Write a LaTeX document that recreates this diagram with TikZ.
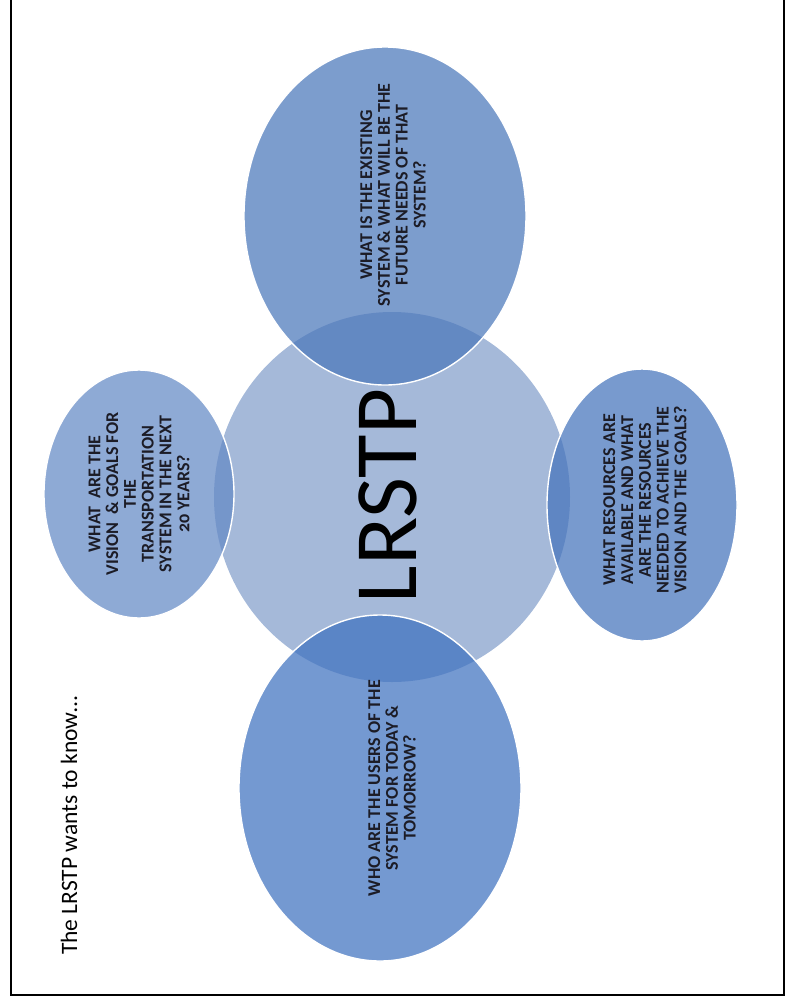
\documentclass[tikz,border=0pt]{standalone}
\usepackage{fontspec}
\setmainfont{Carlito}
\newfontfamily\qfont{Carlito}[Numbers=OldStyle]
\usetikzlibrary{shapes.geometric}
\definecolor{centrefill}{RGB}{165,185,217}
\definecolor{topc}{RGB}{74,119,186}
\definecolor{leftc}{RGB}{99,137,197}
\definecolor{rightc}{RGB}{68,115,187}
\definecolor{botc}{RGB}{62,113,191}
\definecolor{qtext}{RGB}{28,28,38}
\tikzset{
  centrebox/.style={ellipse, inner sep=0pt, fill=centrefill, draw=none},
  satbox/.style={ellipse, inner sep=0pt, fill opacity=0.72, draw=white, draw opacity=1, line width=1.4pt},
  qlabel/.style={rotate=90, align=center, text=qtext, font=\qfont\bfseries\fontsize{18}{17.8}\selectfont, inner sep=0pt},
  bigword/.style={rotate=90, text=black, font=\fontsize{89}{89}\selectfont, inner sep=0pt},
  captionlabel/.style={rotate=90, text=black, font=\fontsize{23.5}{26}\selectfont, inner sep=0pt, anchor=west},
  frame/.style={draw=black, line width=2pt}
}
\begin{document}
\begin{tikzpicture}[x=1pt,y=-1pt]
\useasboundingbox (0,0) rectangle (786,1002);
\begin{scope}
\clip (0,0) rectangle (786,1002);
\coordinate (fa) at (11,-10);
\coordinate (fb) at (784,995);
\draw[frame] (fa) rectangle (fb);
\end{scope}

\node[centrebox, minimum width=356, minimum height=370] (c) at (392,497) {};

\node[satbox, fill=topc, minimum width=282, minimum height=338] (t) at (385,216) {};
\node[satbox, fill=leftc, minimum width=190, minimum height=248] (l) at (139,494) {};
\node[satbox, fill=rightc, minimum width=190, minimum height=272] (r) at (642,505) {};
\node[satbox, fill=botc, minimum width=282, minimum height=346] (b) at (380,788) {};

\node[bigword] (cw) at (388,496) {LRSTP};

\node[qlabel] (tt) at (393,195) {WHAT IS THE EXISTING\\SYSTEM \& WHAT WILL BE THE\\FUTURE NEEDS OF THAT\\SYSTEM?};
\node[qlabel] (lt) at (139,494) {WHAT\ \ ARE THE\\VISION\ \ \& GOALS FOR\\THE\\TRANSPORTATION\\SYSTEM IN THE NEXT\\20 YEARS?};
\node[qlabel] (rt) at (645,500) {WHAT RESOURCES ARE\\AVAILABLE AND WHAT\\ARE THE RESOURCES\\NEEDED TO ACHIEVE THE\\VISION AND THE GOALS?};
\node[qlabel] (bt) at (392,788) {WHO ARE THE USERS OF THE\\SYSTEM FOR TODAY \&\\TOMORROW?};

\node[captionlabel] (cap) at (69,955) {The LRSTP wants to know\dots};
\end{tikzpicture}
\end{document}
